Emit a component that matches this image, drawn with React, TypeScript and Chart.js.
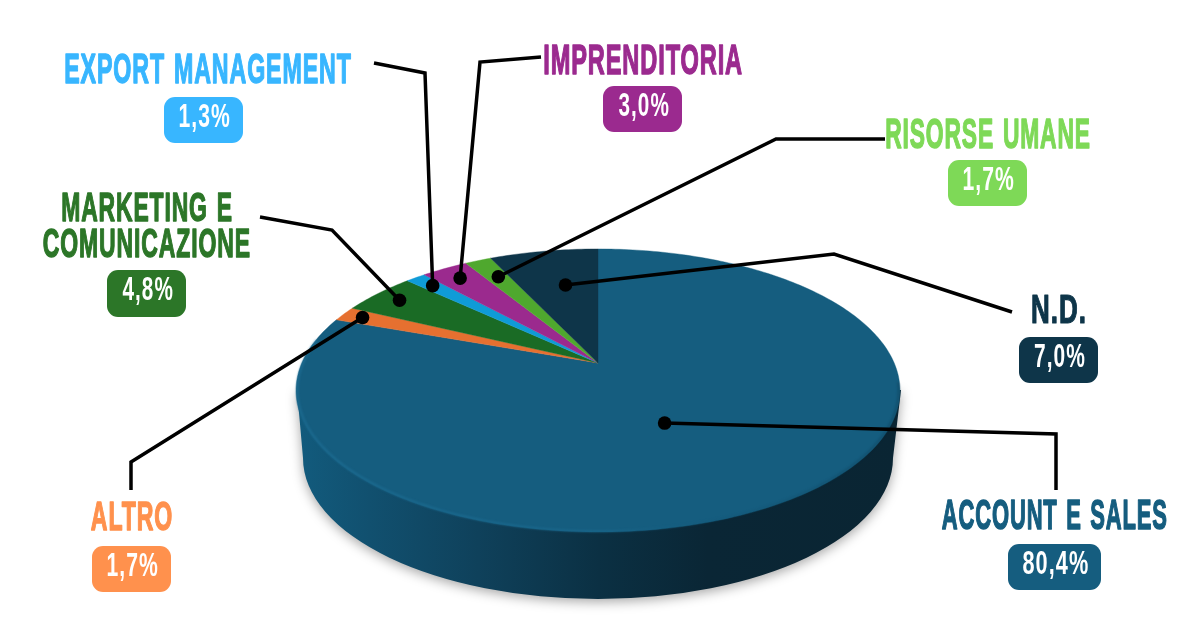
import React, { useEffect, useRef } from "react";
import { Chart, registerables } from "chart.js";

Chart.register(...registerables);

// ---- data ----
const categories = ["ACCOUNT E SALES", "ALTRO", "MARKETING E COMUNICAZIONE", "EXPORT MANAGEMENT", "IMPRENDITORIA", "RISORSE UMANE", "N.D."];
const values = [80.4, 1.7, 4.8, 1.3, 3.0, 1.7, 7.0];
const sliceColors = ["#155D7F", "#E67030", "#1A6B25", "#0F9BD7", "#9B2A8E", "#4FA82E", "#0E3549"];
const labelColors = ["#155D7F", "#FF914D", "#2C7628", "#38B6FF", "#9B2A8F", "#7ED957", "#0E3549"];

// ---- label layout: [x0, x1, capTop, capBottom] per line ----
const titleLines: [string, number, number, number, number][][] = [
  [["ACCOUNT E SALES", 942, 1167, 499, 529]],
  [["ALTRO", 91, 172, 501, 530]],
  [["MARKETING E", 62, 232, 192, 221], ["COMUNICAZIONE", 43, 250, 228, 257]],
  [["EXPORT MANAGEMENT", 65, 351, 53, 83]],
  [["IMPRENDITORIA", 544, 742, 44, 74]],
  [["RISORSE UMANE", 886, 1090, 118, 148]],
  [["N.D.", 1032, 1085, 294, 323]],
];
// value badges: [x0, x1, y0, y1]
const badges = [
  [1008, 1101, 544, 590],
  [92, 171, 546, 592],
  [107, 186, 270, 317],
  [164, 243, 97, 143],
  [603, 682, 86, 132],
  [948, 1027, 160, 206],
  [1019, 1098, 337, 383],
];
// leader lines: elbows from label towards the dot
const leaderPaths = [
  [[1056, 490], [1056, 434]],
  [[131, 490], [131, 462]],
  [[260, 217], [332, 230]],
  [[374, 63], [425, 73]],
  [[541, 57], [480, 62]],
  [[885, 139], [776, 139]],
  [[1012, 312], [834, 254]],
];
const dotPositionInSlice = [0.528, 0.5, 0.5, 0.5, 0.5, 0.55, 0.57];
const dotRadius = [0.456, 0.922, 0.893, 0.895, 0.885, 0.818, 0.656];

// ---- perspective of the disc ----
const APEX_X = 598;
const APEX_Y = 363;
const K = 0.1943;
const A = 296.2;
const B = 136.2;
const project = (angle: number, r: number): [number, number] => {
  const u = r * Math.cos(angle);
  const v = r * Math.sin(angle);
  const w = 1 - K * v;
  return [APEX_X + (A * u) / w, APEX_Y + (B * v) / w];
};

const drawFitted = (
  ctx: CanvasRenderingContext2D,
  text: string,
  x0: number,
  x1: number,
  top: number,
  bottom: number,
  color: string,
  weight: number,
  spacing: number
) => {
  ctx.save();
  ctx.font = 'bold 40px "Liberation Sans Narrow", "Liberation Sans", sans-serif';
  (ctx as any).letterSpacing = spacing + "px";
  (ctx as any).wordSpacing = spacing * 2 + "px";
  ctx.textAlign = "left";
  ctx.textBaseline = "alphabetic";
  const caps = ctx.measureText("H");
  const m = ctx.measureText(text);
  const inkWidth = m.actualBoundingBoxRight + m.actualBoundingBoxLeft;
  const sx = (x1 - x0 - weight) / inkWidth;
  const sy = (bottom - top - weight) / caps.actualBoundingBoxAscent;
  ctx.translate(x0 + weight / 2 + m.actualBoundingBoxLeft * sx, bottom - weight / 2);
  ctx.scale(sx, sy);
  ctx.fillStyle = color;
  ctx.strokeStyle = color;
  ctx.lineJoin = "round";
  ctx.lineWidth = weight / Math.min(sx, sy);
  ctx.fillText(text, 0, 0);
  if (weight > 0) ctx.strokeText(text, 0, 0);
  ctx.restore();
};

const pie3d = {
  id: "pie3d",
  beforeDatasetDraw(chart: any) {
    const ctx: CanvasRenderingContext2D = chart.ctx;
    const arcs = chart.getDatasetMeta(0).data;

    // wall
    ctx.save();
    const wall = ctx.createLinearGradient(297, 0, 901, 0);
    wall.addColorStop(0, "#125B7D");
    wall.addColorStop(0.12, "#11506F");
    wall.addColorStop(0.3, "#0F415B");
    wall.addColorStop(0.5, "#0B3043");
    wall.addColorStop(0.68, "#0A2635");
    wall.addColorStop(1, "#0A2533");
    ctx.shadowColor = "rgba(0,0,0,0.35)";
    ctx.shadowBlur = 12;
    ctx.shadowOffsetY = 3;
    ctx.beginPath();
    ctx.moveTo(297, 390);
    ctx.lineTo(303, 458);
    ctx.ellipse(598, 458, 295, 141, 0, Math.PI, 0, true);
    ctx.lineTo(901, 390);
    ctx.closePath();
    ctx.fillStyle = wall;
    ctx.fill();
    ctx.restore();

    // top face, one slice per library arc
    arcs.forEach((arc: any, i: number) => {
      const { startAngle, endAngle } = arc.getProps(["startAngle", "endAngle"], true);
      ctx.beginPath();
      ctx.moveTo(APEX_X, APEX_Y);
      const steps = Math.max(2, Math.ceil(((endAngle - startAngle) * 180) / Math.PI));
      for (let s = 0; s <= steps; s++) {
        const [x, y] = project(startAngle + ((endAngle - startAngle) * s) / steps, 1);
        ctx.lineTo(x, y);
      }
      ctx.closePath();
      ctx.fillStyle = sliceColors[i];
      ctx.strokeStyle = sliceColors[i];
      ctx.lineWidth = 0.4;
      ctx.fill();
      ctx.stroke();
    });

    // soft highlight along the front rim
    const rim = ctx.createLinearGradient(297, 0, 901, 0);
    rim.addColorStop(0, "rgba(32,115,155,0.7)");
    rim.addColorStop(0.5, "rgba(32,115,155,0.45)");
    rim.addColorStop(0.72, "rgba(20,80,110,0.25)");
    rim.addColorStop(1, "rgba(10,45,65,0.35)");
    ctx.save();
    ctx.filter = "blur(0.8px)";
    ctx.beginPath();
    for (let d = 8; d <= 190; d += 1) {
      const [x, y] = project((d * Math.PI) / 180, 0.996);
      if (d === 8) ctx.moveTo(x, y);
      else ctx.lineTo(x, y);
    }
    ctx.strokeStyle = rim;
    ctx.lineWidth = 2;
    ctx.stroke();
    ctx.restore();

    // leader lines and dots
    arcs.forEach((arc: any, i: number) => {
      const { startAngle, endAngle } = arc.getProps(["startAngle", "endAngle"], true);
      const [dx, dy] = project(startAngle + (endAngle - startAngle) * dotPositionInSlice[i], dotRadius[i]);
      ctx.beginPath();
      leaderPaths[i].forEach(([x, y], j) => (j === 0 ? ctx.moveTo(x, y) : ctx.lineTo(x, y)));
      ctx.lineTo(dx, dy);
      ctx.strokeStyle = "#000";
      ctx.lineWidth = 3.5;
      ctx.lineJoin = "miter";
      ctx.stroke();
      ctx.beginPath();
      ctx.arc(dx, dy, 6.8, 0, Math.PI * 2);
      ctx.fillStyle = "#000";
      ctx.fill();
    });

    // labels
    categories.forEach((_, i) => {
      titleLines[i].forEach(([t, x0, x1, top, bottom]) => drawFitted(ctx, t, x0, x1, top, bottom, labelColors[i], 0.8, 1.5));
      const [bx0, bx1, by0, by1] = badges[i];
      ctx.beginPath();
      ctx.roundRect(bx0, by0, bx1 - bx0, by1 - by0, 11);
      ctx.fillStyle = labelColors[i];
      ctx.fill();
      const txt = values[i].toFixed(1).replace(".", ",") + "%";
      const cx = (bx0 + bx1) / 2 + 1;
      const half = i === 0 ? 32.5 : 25;
      drawFitted(ctx, txt, cx - half, cx + half, by0 + 7, by0 + 30, "#fff", 0, 2);
    });
    return false;
  },
};

export default function App() {
  const ref = useRef<HTMLCanvasElement>(null);
  useEffect(() => {
    document.body.style.margin = "0";
    document.body.style.background = "#fff";
    const chart = new Chart(ref.current!, {
      type: "pie",
      data: {
        labels: categories,
        datasets: [{ data: values, backgroundColor: sliceColors, borderWidth: 0 }],
      },
      options: {
        responsive: false,
        animation: false,
        devicePixelRatio: 1,
        rotation: 0,
        plugins: { legend: { display: false }, tooltip: { enabled: false } },
      },
      plugins: [pie3d as any],
    });
    return () => chart.destroy();
  }, []);
  return <canvas ref={ref} width={1200} height={630} style={{ display: "block" }} />;
}
